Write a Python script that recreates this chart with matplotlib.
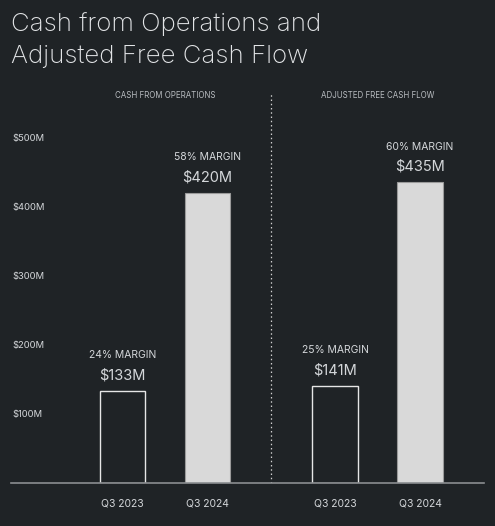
import matplotlib
matplotlib.use("Agg")
import matplotlib.pyplot as plt

# Data
sections = ["CASH FROM OPERATIONS", "ADJUSTED FREE CASH FLOW"]
periods = ["Q3 2023", "Q3 2024", "Q3 2023", "Q3 2024"]
values = [133, 420, 141, 435]
value_labels = ["$133M", "$420M", "$141M", "$435M"]
margins = ["24% MARGIN", "58% MARGIN", "25% MARGIN", "60% MARGIN"]
yticks = [100, 200, 300, 400, 500]
ytick_labels = ["$100M", "$200M", "$300M", "$400M", "$500M"]

BG = "#1f2326"
TXT = "#d4d7da"
FILL = "#d9d9d9"

positions = [0, 1, 2.5, 3.5]

plt.rcParams['font.family'] = ['Inter', 'DejaVu Sans']

fig = plt.figure(figsize=(4.95, 5.26), dpi=100, facecolor=BG)
W, H = 495, 526
ax = fig.add_axes([11 / W, 1 - 483 / H, 473 / W, (483 - 93) / H])
ax.set_facecolor(BG)

ax.set_xlim(-1.312, 4.253)
ax.set_ylim(0, 564)

for i, (p, v) in enumerate(zip(positions, values)):
    if i % 2 == 0:
        ax.bar(p, v, width=0.54, facecolor=BG, edgecolor="#e6e6e6", linewidth=1.0, zorder=2)
    else:
        ax.bar(p, v, width=0.54, facecolor=FILL, edgecolor="#9a9a9a", linewidth=0.8, zorder=2)
    ax.annotate(value_labels[i], (p, v), xytext=(0, 6), textcoords="offset points",
                ha="center", va="bottom", color=TXT, fontsize=10.5)
    ax.annotate(margins[i], (p, v), xytext=(0, 22), textcoords="offset points",
                ha="center", va="bottom", color=TXT, fontsize=7.5)

# Divider
ax.axvline(1.75, color="#d0d0d0", linestyle=(0, (1.2, 2.2)), linewidth=0.9, zorder=1)

# Section headers
ax.text(0.5, 560, sections[0], ha="center", va="center", color="#b8bcc0", fontsize=5.7)
ax.text(3.0, 560, sections[1], ha="center", va="center", color="#b8bcc0", fontsize=5.7)

# Axes styling
for s in ["top", "right", "left"]:
    ax.spines[s].set_visible(False)
ax.spines["bottom"].set_color("#8a8d90")
ax.spines["bottom"].set_linewidth(1.2)

ax.set_xticks(positions)
ax.set_xticklabels(periods, color=TXT, fontsize=7.5)
ax.tick_params(axis="x", length=0, pad=11)

ax.set_yticks(yticks)
ax.set_yticklabels(ytick_labels, color=TXT, fontsize=6.8)
ax.tick_params(axis="y", length=0, pad=-1)
for lbl in ax.get_yticklabels():
    lbl.set_horizontalalignment("left")

# Title
fig.text(11 / W, 1 - 24 / H, "Cash from Operations and", color="#e2e4e6", fontsize=18.6,
         fontweight="light", ha="left", va="center")
fig.text(11 / W, 1 - 57 / H, "Adjusted Free Cash Flow", color="#e2e4e6", fontsize=18.6,
         fontweight="light", ha="left", va="center")

fig.savefig("out.png", dpi=100, facecolor=BG)
